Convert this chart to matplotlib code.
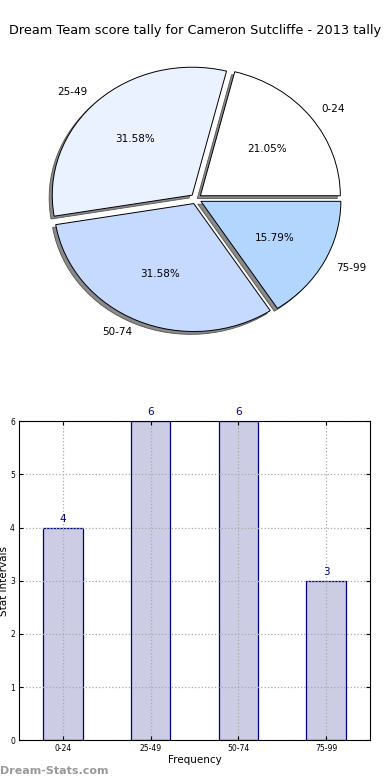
import matplotlib
matplotlib.use('Agg')
import matplotlib.pyplot as plt

# data
categories = ['0-24', '25-49', '50-74', '75-99']
counts = [4, 6, 6, 3]
pie_colors = ['#ffffff', '#eaf1ff', '#c6d9ff', '#b3d6ff']

fig = plt.figure(figsize=(3.9, 7.8), dpi=100)
fig.text(0.5, 0.961, 'Dream Team score tally for Cameron Sutcliffe - 2013 tally',
         ha='center', va='center', fontsize=9.3)

# pie of the tally
ax1 = fig.add_axes([0.054, 0.54, 0.897, 0.41])
ax1.pie(counts, labels=categories, colors=pie_colors, explode=[0.04] * 4,
        autopct='%.2f%%',
        shadow={'ox': -0.016, 'oy': -0.016, 'facecolor': '#8a8a8a',
                'edgecolor': '#555555', 'alpha': 1.0, 'linewidth': 0.6},
        wedgeprops={'edgecolor': 'black', 'linewidth': 0.7},
        textprops={'fontsize': 7.5})
ax1.set_aspect('auto')
ax1.set_xlim(-1.25, 1.25)
ax1.set_ylim(-1.25, 1.25)
ax1.axis('off')

# bar chart of the same counts
ax2 = fig.add_axes([0.049, 0.051, 0.9, 0.409])
x = range(len(categories))
bars = ax2.bar(x, counts, width=0.45, color='#ccccE5', edgecolor='#000080',
               linewidth=0.9, zorder=2)
for b, v in zip(bars, counts):
    ax2.text(b.get_x() + b.get_width() / 2, v + 0.07, str(v), ha='center',
             va='bottom', color='#000080', fontsize=7.5)
ax2.set_xlim(-0.5, 3.5)
ax2.set_ylim(0, 6)
ax2.set_xticks(list(x))
ax2.set_xticklabels(categories)
ax2.set_yticks(range(7))
ax2.tick_params(labelsize=5.5, length=3, direction='in', pad=3,
                top=True, right=True)
ax2.grid(True, linestyle=':', color='#aaaaaa', linewidth=0.9, zorder=3)
ax2.set_axisbelow(False)
for s in ax2.spines.values():
    s.set_zorder(5)
ax2.set_xlabel('Frequency', fontsize=7.5, labelpad=1)
ax2.set_ylabel('Stat Intervals', fontsize=7.5, labelpad=1)

fig.text(0.0, 0.012, 'Dream-Stats.com', fontsize=8, color='#999999',
         fontweight='bold', ha='left', va='center')

fig.savefig('out.png', dpi=100)
